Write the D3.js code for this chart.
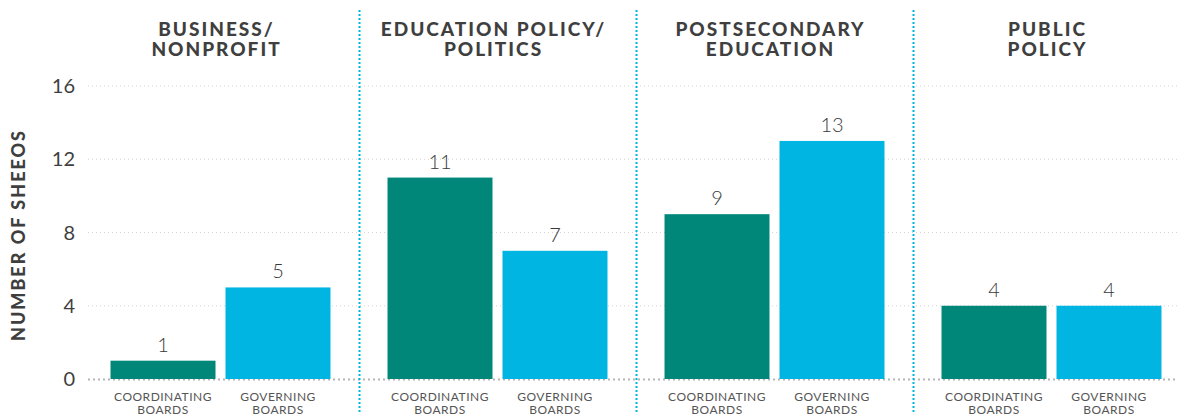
<!DOCTYPE html>
<html>
<head>
<meta charset="utf-8">
<script src="https://cdn.jsdelivr.net/npm/d3@7"></script>
<style>
  body { margin: 0; background: #fff; }
  text { font-family: Lato, "Open Sans", sans-serif; }
</style>
</head>
<body>
<div id="chart"></div>
<script>
// data
var categories = ['BUSINESS/\nNONPROFIT', 'EDUCATION POLICY/\nPOLITICS', 'POSTSECONDARY\nEDUCATION', 'PUBLIC\nPOLICY'];
var boardTypes = ['COORDINATING\nBOARDS', 'GOVERNING\nBOARDS'];
var coordinating = [1, 11, 9, 4];
var governing = [5, 7, 13, 4];
var yTicks = [0, 4, 8, 12, 16];

var width = 1178;
var height = 414;
var colors = ['#00877a', '#00b5e2'];

var svg = d3.select('#chart').append('svg')
    .attr('width', width)
    .attr('height', height);

// scales
var x0 = d3.scaleBand()
    .domain(categories)
    .range([82, 82 + 277 * 4])
    .padding(0);

var x1 = d3.scaleBand()
    .domain(boardTypes)
    .range([0, x0.bandwidth()])
    .paddingInner(0.087)
    .paddingOuter(0.248);

var y = d3.scaleLinear()
    .domain([0, 16])
    .range([379, 86]);

// grid lines
svg.append('g').selectAll('line')
    .data(yTicks.filter(d => d > 0))
    .enter()
    .append('line')
    .attr('x1', 88)
    .attr('x2', width)
    .attr('y1', d => y(d))
    .attr('y2', d => y(d))
    .attr('stroke', '#d4d4d4')
    .attr('stroke-width', 1)
    .attr('stroke-dasharray', '1,3');

// zero line
svg.append('line')
    .attr('x1', 88)
    .attr('x2', width)
    .attr('y1', y(0) + 0.5)
    .attr('y2', y(0) + 0.5)
    .attr('stroke', '#b5b5b5')
    .attr('stroke-width', 2)
    .attr('stroke-dasharray', '2,3');

// y tick labels
svg.append('g').selectAll('text')
    .data(yTicks)
    .enter()
    .append('text')
    .attr('x', 75)
    .attr('y', d => y(d) + 7)
    .attr('text-anchor', 'end')
    .style('font-size', '20px')
    .style('font-weight', 400)
    .style('fill', '#3f3f3f')
    .text(d => d);

// y axis title
svg.append('text')
    .attr('transform', 'translate(25, 235) rotate(-90)')
    .attr('text-anchor', 'middle')
    .style('font-size', '18px')
    .style('font-weight', 900)
    .style('letter-spacing', '2px')
    .style('fill', '#3f3f3f')
    .text('NUMBER OF SHEEOS');

// panel separators
svg.append('g').selectAll('line')
    .data(categories.slice(1))
    .enter()
    .append('line')
    .attr('x1', d => x0(d) + 0.5)
    .attr('x2', d => x0(d) + 0.5)
    .attr('y1', 10)
    .attr('y2', height)
    .attr('stroke', '#00b5e2')
    .attr('stroke-width', 2)
    .attr('stroke-dasharray', '2,2');

// panels
var panels = svg.selectAll('.panel')
    .data(categories.map((c, i) => ({ cat: c, values: [coordinating[i], governing[i]] })))
    .enter()
    .append('g')
    .attr('class', 'panel')
    .attr('transform', d => `translate(${x0(d.cat)}, 0)`);

// panel titles
panels.append('text')
    .attr('text-anchor', 'middle')
    .style('font-size', '19px')
    .style('font-weight', 900)
    .style('letter-spacing', '2px')
    .style('fill', '#3f3f3f')
    .each(function(d) {
        var t = d3.select(this);
        d.cat.split('\n').forEach(function(line, i) {
            t.append('tspan')
                .attr('x', x0.bandwidth() / 2 - 4)
                .attr('y', 36 + i * 20)
                .text(line);
        });
    });

// bars
panels.selectAll('rect')
    .data(d => d.values.map((v, i) => ({ type: boardTypes[i], value: v, idx: i })))
    .enter()
    .append('rect')
    .attr('x', d => x1(d.type))
    .attr('y', d => y(d.value))
    .attr('width', x1.bandwidth())
    .attr('height', d => y(0) - y(d.value))
    .attr('fill', d => colors[d.idx]);

// value labels
panels.selectAll('.val')
    .data(d => d.values.map((v, i) => ({ type: boardTypes[i], value: v })))
    .enter()
    .append('text')
    .attr('class', 'val')
    .attr('x', d => x1(d.type) + x1.bandwidth() / 2)
    .attr('y', d => y(d.value) - 9)
    .attr('text-anchor', 'middle')
    .style('font-size', '20px')
    .style('font-weight', 300)
    .style('fill', '#3a3a3a')
    .text(d => d.value);

// board type labels
panels.selectAll('.cat')
    .data(boardTypes)
    .enter()
    .append('text')
    .attr('class', 'cat')
    .attr('text-anchor', 'middle')
    .style('font-size', '12px')
    .style('letter-spacing', '0.5px')
    .style('fill', '#555')
    .each(function(d) {
        var t = d3.select(this);
        d.split('\n').forEach(function(line, i) {
            t.append('tspan')
                .attr('x', x1(d) + x1.bandwidth() / 2)
                .attr('y', 401 + i * 13)
                .text(line);
        });
    });
</script>
</body>
</html>
